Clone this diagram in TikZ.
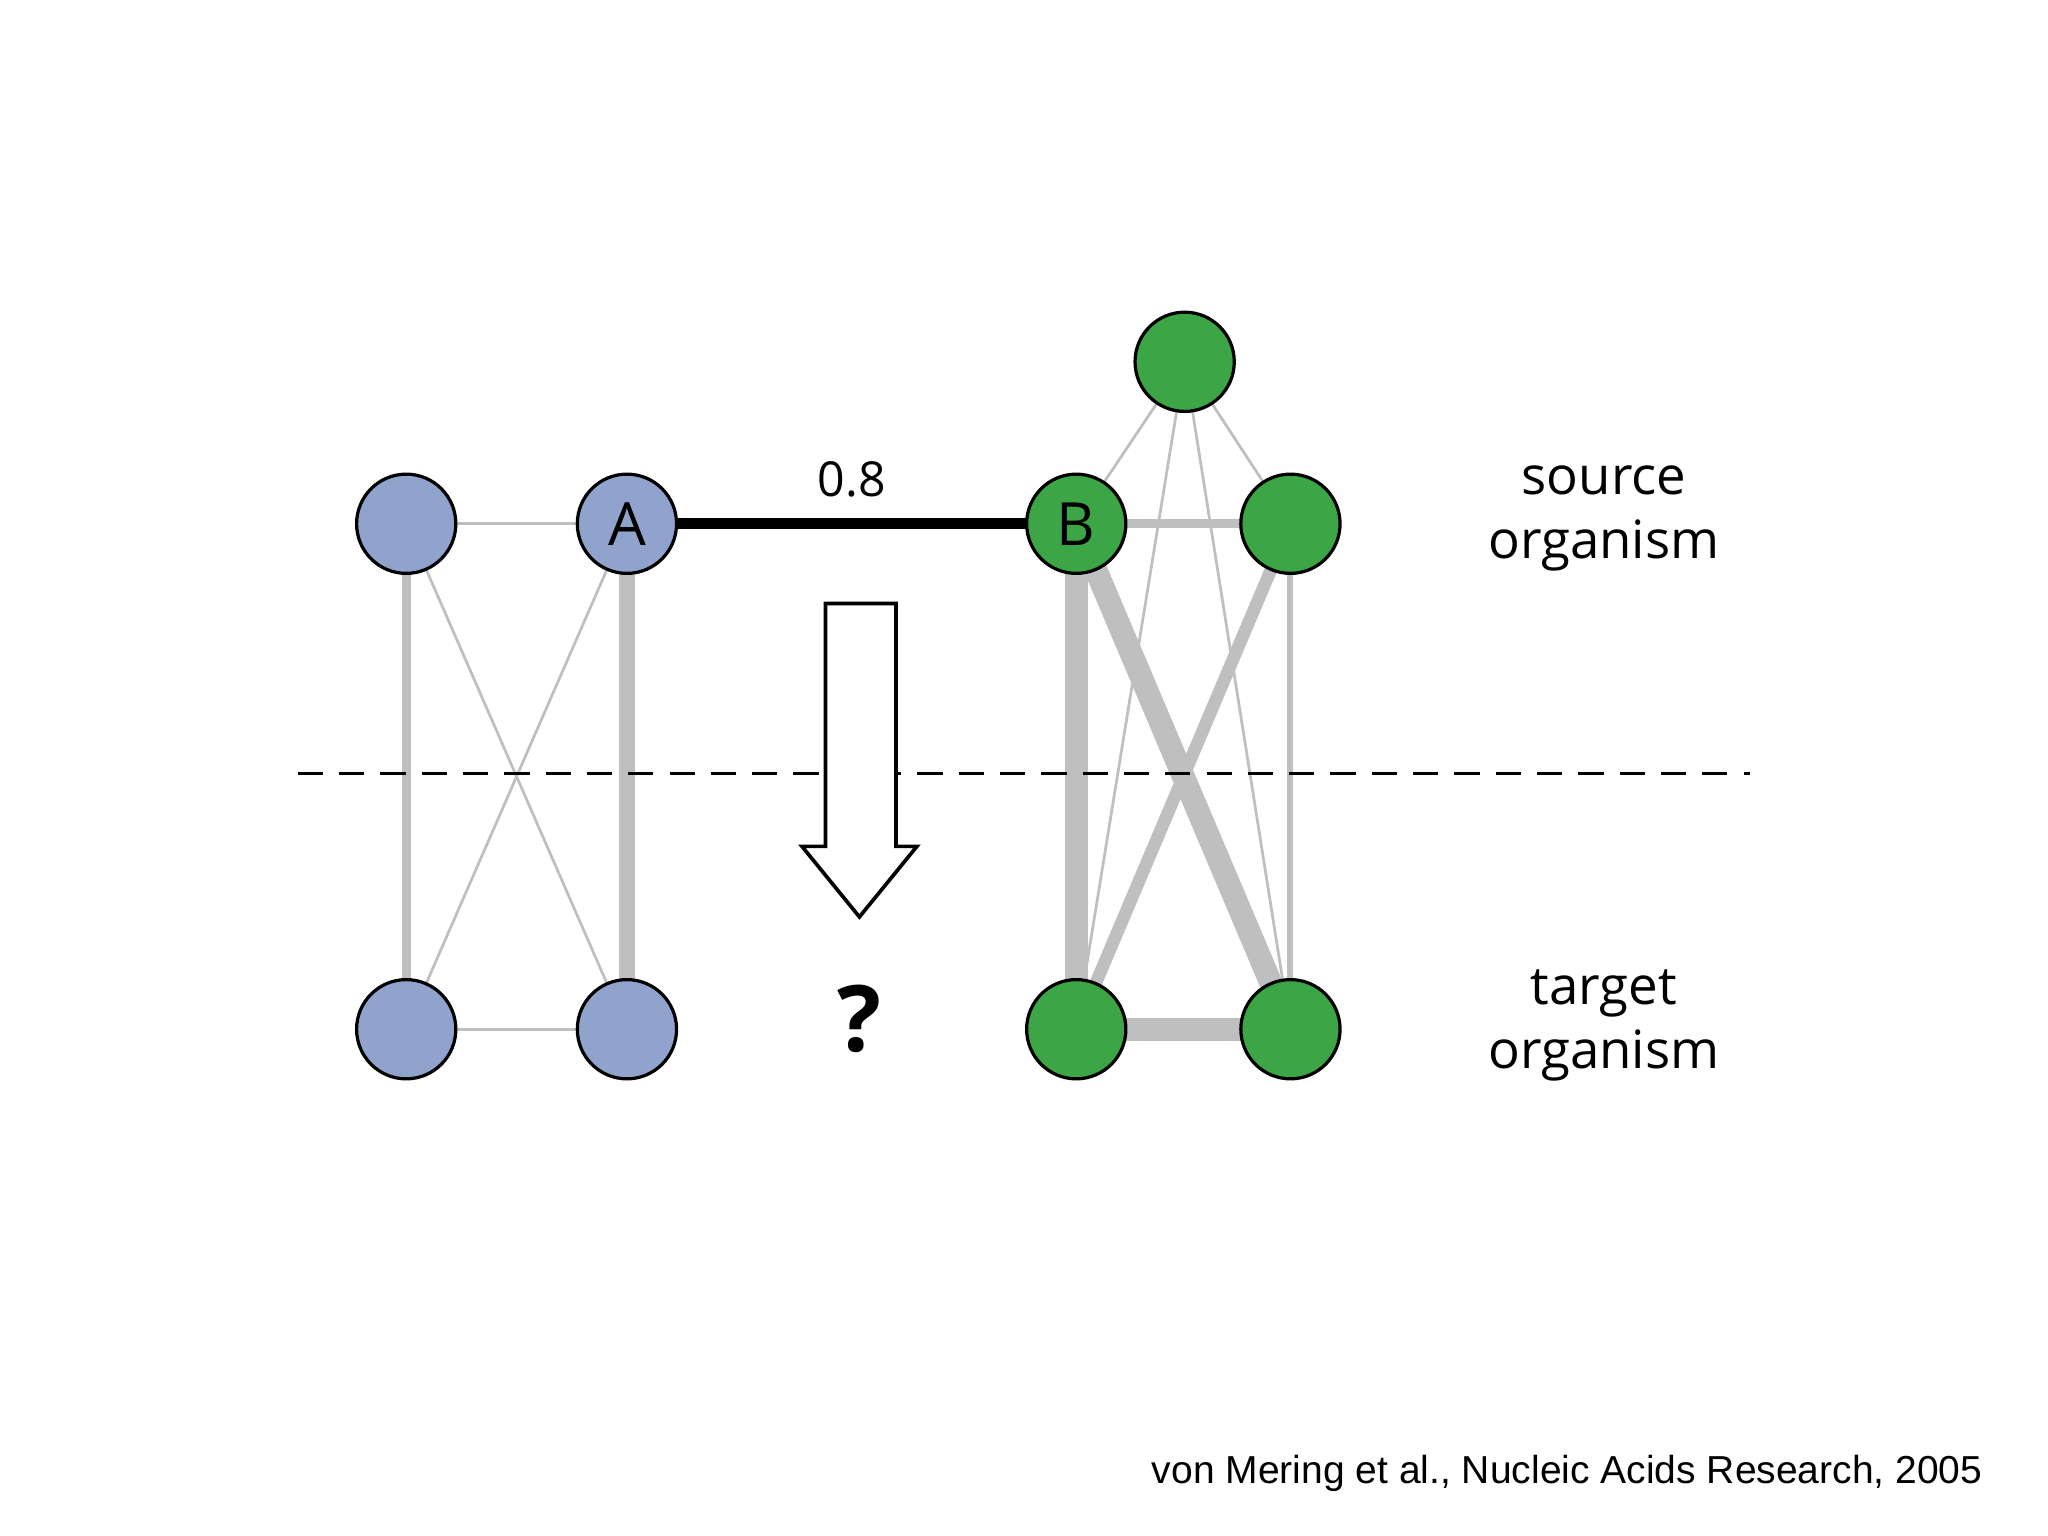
\documentclass[tikz,border=0pt]{standalone}
\usepackage{fontspec}
\setmainfont{Open Sans}
\newfontfamily\arialf{Liberation Sans}
\begin{document}
\begin{tikzpicture}[x=0.02cm,y=-0.02cm,
  blue/.style={circle,draw=black,line width=1.4pt,minimum size=1.52cm,inner sep=0pt,font=\fontsize{26}{28}\selectfont},
  grn/.style={circle,draw=black,line width=1.4pt,minimum size=1.52cm,inner sep=0pt,font=\fontsize{26}{28}\selectfont},
  ge/.style={draw=gray!50,line width=#1}]
\useasboundingbox (0,0) rectangle (1568,1176);
\definecolor{nb}{RGB}{143,163,205}
\definecolor{ng}{RGB}{60,165,70}
\tikzset{blue/.append style={fill=nb},grn/.append style={fill=ng}}
\coordinate (LT) at (311,401); \coordinate (A0) at (480,401);
\coordinate (B0) at (824,401); \coordinate (RT) at (988,401);
\coordinate (TP) at (907,277);
\coordinate (LB) at (311,788); \coordinate (AB) at (480,788);
\coordinate (GB) at (824,788); \coordinate (RB) at (988,788);
% edges
\draw[ge=1.2pt] (LT)--(A0); \draw[ge=1.2pt] (LB)--(AB);
\draw[ge=4pt] (LT)--(LB); \draw[ge=1.2pt] (A0)--(LB); \draw[ge=1.2pt] (LT)--(AB);
\draw[ge=7pt] (A0)--(AB);
\draw[ge=1.2pt] (TP)--(B0); \draw[ge=1.2pt] (TP)--(RT);
\draw[ge=1.2pt] (TP)--(GB); \draw[ge=1.2pt] (TP)--(RB);
\draw[ge=4pt] (B0)--(RT);
\draw[ge=10pt] (B0)--(GB); \draw[ge=10pt] (B0)--(RB);
\draw[ge=5.5pt] (RT)--(GB); \draw[ge=2.6pt] (RT)--(RB);
\draw[ge=10pt] (GB)--(RB);
\draw[line width=4.6pt] (A0)--(B0) node[midway,above=6pt,font=\fontsize{21}{24}\selectfont]{0.8};
% dashed
\coordinate (d1) at (228,592); \coordinate (d2) at (1340,592);
\draw[line width=1.4pt,dash pattern=on 11pt off 7pt] (d1)--(d2);
% nodes
\node[blue] (n1) at (LT) {}; \node[blue] (nA) at (A0) {A};
\node[blue] (n3) at (LB) {}; \node[blue] (n4) at (AB) {};
\node[grn] (nB) at (B0) {B}; \node[grn] (n6) at (RT) {};
\node[grn] (n7) at (TP) {}; \node[grn] (n8) at (GB) {}; \node[grn] (n9) at (RB) {};
% arrow
\draw[line width=1.6pt,fill=white] (632,462)--(686,462)--(686,648)--(702,648)--(658,702)--(614,648)--(632,648)--cycle;
\node[font=\fontsize{40}{44}\selectfont\bfseries] (q) at (658,780) {?};
\node[font=\fontsize{23}{28}\selectfont,align=center] (s) at (1228,397) {source\\organism};
\node[font=\fontsize{23}{28}\selectfont,align=center] (t) at (1228,785) {target\\organism};
\node[font=\arialf\fontsize{17}{20}\selectfont,anchor=east] (c) at (1524,1128) {von Mering et al., Nucleic Acids Research, 2005};
\end{tikzpicture}
\end{document}
